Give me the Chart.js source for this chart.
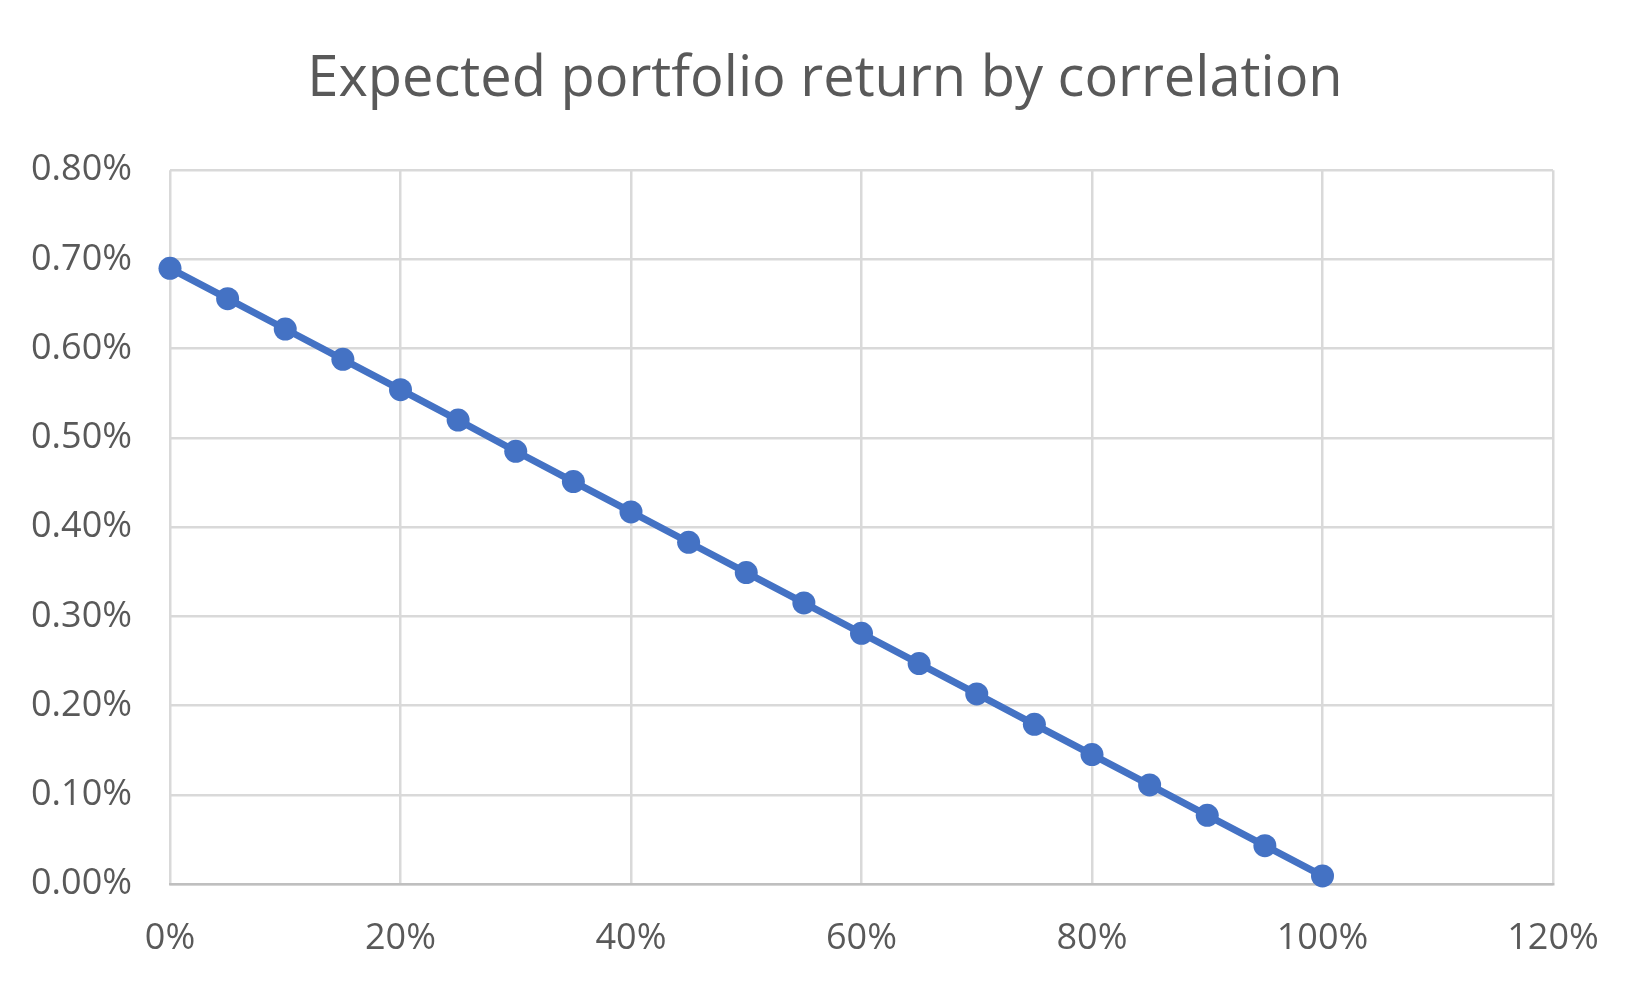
<!DOCTYPE html>
<html>
<head>
<meta charset="utf-8">
<script src="https://cdn.jsdelivr.net/npm/chart.js@4"></script>
<style>
  html, body { margin: 0; padding: 0; background: #fff; }
  #wrap { width: 1650px; height: 990px; }
</style>
</head>
<body>
<div id="wrap"><canvas id="chart" width="1650" height="990"></canvas></div>
<script>
// correlation (%) and expected portfolio return (%)
const correlation = [0, 5, 10, 15, 20, 25, 30, 35, 40, 45, 50, 55, 60, 65, 70, 75, 80, 85, 90, 95, 100];
const expectedReturn = [0.690, 0.656, 0.622, 0.588, 0.554, 0.520, 0.485, 0.451, 0.417, 0.383, 0.349,
  0.315, 0.281, 0.247, 0.213, 0.179, 0.145, 0.111, 0.077, 0.043, 0.009];
const titleText = 'Expected portfolio return by correlation';

const points = correlation.map((c, i) => ({x: c, y: expectedReturn[i]}));
const FONT = "'Open Sans', sans-serif";
const TEXT = '#595959';

const ctx = document.getElementById('chart');

const chart = new Chart(ctx, {
  type: 'line',
  data: {
    datasets: [{
      label: 'Expected return',
      data: points,
      borderColor: '#4472C4',
      backgroundColor: '#4472C4',
      borderWidth: 7,
      pointRadius: 11.5,
      pointBorderWidth: 0,
      pointBackgroundColor: '#4472C4',
      tension: 0,
      clip: false
    }]
  },
  options: {
    responsive: false,
    animation: false,
    layout: {padding: 0},
    plugins: {
      legend: {display: false},
      tooltip: {enabled: false},
      title: {
        display: true,
        text: titleText,
        color: TEXT,
        font: {family: FONT, size: 56, weight: 'normal'},
        padding: {top: 46, bottom: 57}
      }
    },
    scales: {
      x: {
        type: 'linear',
        min: 0,
        max: 120,
        ticks: {
          stepSize: 20,
          color: TEXT,
          padding: 33,
          font: {family: FONT, size: 36},
          callback: v => v + '%'
        },
        grid: {color: '#d9d9d9', lineWidth: 2.5, drawTicks: false},
        border: {color: '#bfbfbf', width: 2.5},
        afterFit: s => { s.height = 106; }
      },
      y: {
        min: 0,
        max: 0.8,
        ticks: {
          stepSize: 0.1,
          color: TEXT,
          padding: 38,
          font: {family: FONT, size: 36},
          callback: v => v.toFixed(2) + '%'
        },
        grid: {color: '#d9d9d9', lineWidth: 2.5, drawTicks: false},
        border: {display: false},
        afterFit: s => { s.width = 170; }
      },
      // empty right-hand spacer so the title stays centred on the page
      yRight: {
        position: 'right',
        display: true,
        ticks: {display: false},
        grid: {display: false},
        border: {display: false},
        afterFit: s => { s.width = 97; }
      }
    }
  }
});
</script>
</body>
</html>
